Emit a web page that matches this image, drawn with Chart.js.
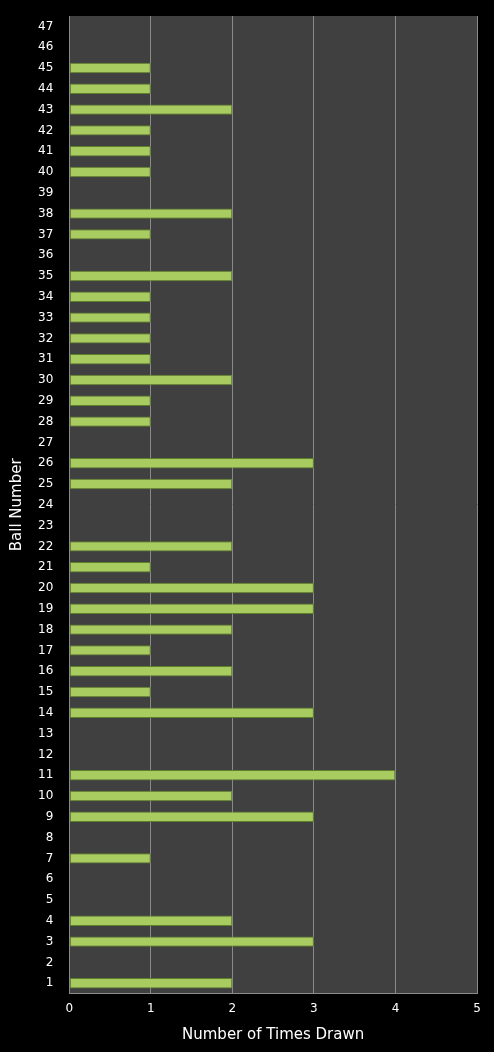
<!DOCTYPE html>
<html>
<head>
<meta charset="utf-8">
<script src="https://cdn.jsdelivr.net/npm/chart.js@4"></script>
<style>
  html, body { margin: 0; padding: 0; background: #000; }
  #wrap { width: 494px; height: 1052px; }
</style>
</head>
<body>
<div id="wrap"><canvas id="grafico"></canvas></div>
<script>
const bolas = [];
for (let i = 47; i >= 1; i--) bolas.push(String(i));

// vezes sorteada, da bola 47 até a bola 1
const vezesSorteada = [0, 0, 1, 1, 2, 1, 1, 1, 0, 2, 1, 0, 2, 1, 1, 1, 1, 2, 1, 1, 0, 3, 2, 0, 0, 2, 1, 3, 3, 2, 1, 2, 1, 3, 0, 0, 4, 2, 3, 0, 1, 0, 0, 2, 3, 0, 2];

const ticksX = [0, 1, 2, 3, 4, 5];

const fundoArea = {
  id: 'fundoArea',
  beforeDraw(chart) {
    const { ctx, chartArea: a } = chart;
    ctx.save();
    ctx.fillStyle = '#404040';
    ctx.fillRect(a.left, a.top, a.right - a.left, a.bottom - a.top);
    ctx.restore();
  }
};

new Chart(document.getElementById('grafico'), {
  type: 'bar',
  data: {
    labels: bolas,
    datasets: [{
      label: 'Number of Times Drawn',
      data: vezesSorteada,
      backgroundColor: (c) => {
        const { ctx, chartArea } = c.chart;
        if (!chartArea) return '#a8cc60';
        return '#a8cc60';
      },
      borderColor: '#5f7f28',
      borderWidth: 1,
      borderSkipped: false,
      barPercentage: 0.5,
      categoryPercentage: 1
    }]
  },
  options: {
    indexAxis: 'y',
    responsive: true,
    maintainAspectRatio: false,
    animation: false,
    layout: { padding: { top: 16, right: 17, bottom: 4, left: 4 } },
    plugins: { legend: { display: false }, tooltip: { enabled: false } },
    scales: {
      x: {
        min: 0, max: 5,
        afterBuildTicks: (ax) => { ax.ticks = ticksX.map(v => ({ value: v })); },
        grid: { color: '#8a8a8a', drawTicks: false },
        border: { color: '#8a8a8a' },
        ticks: { color: '#fff', font: { family: 'DejaVu Sans', size: 12 }, padding: 8 },
        title: { display: true, text: 'Number of Times Drawn', color: '#fff', font: { family: 'DejaVu Sans', size: 15 }, padding: { top: 2 } }
      },
      y: {
        grid: { display: false },
        border: { color: '#8a8a8a' },
        ticks: { color: '#fff', font: { family: 'DejaVu Sans', size: 12 }, autoSkip: false, padding: 8 },
        title: { display: true, text: 'Ball Number', color: '#fff', font: { family: 'DejaVu Sans', size: 15 }, padding: { bottom: 4 } }
      }
    }
  },
  plugins: [fundoArea]
});
</script>
</body>
</html>
